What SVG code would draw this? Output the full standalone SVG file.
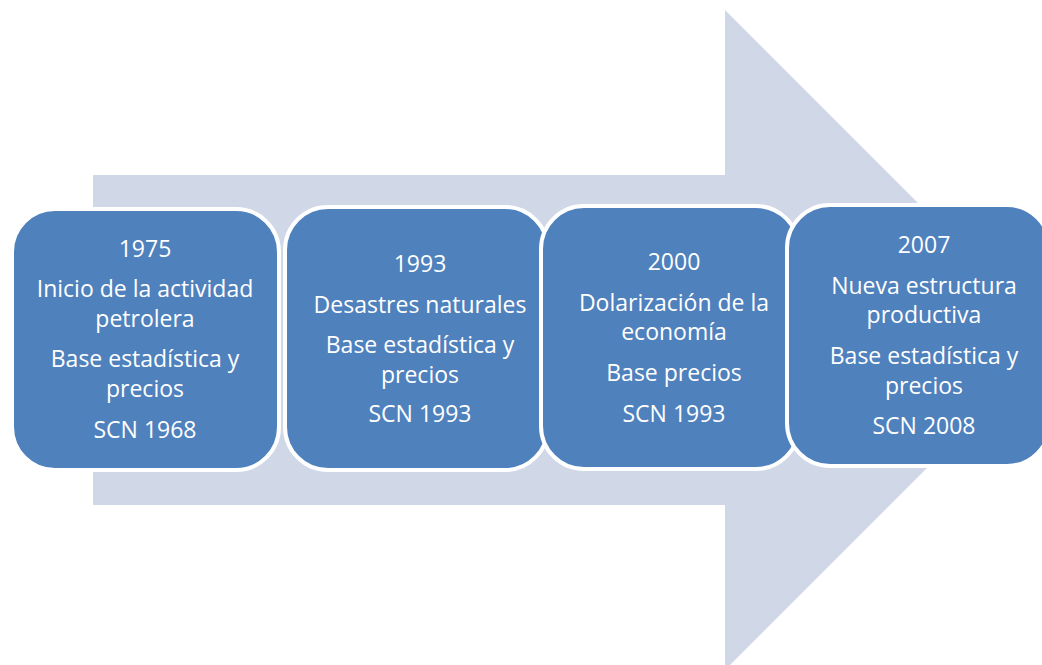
<svg xmlns="http://www.w3.org/2000/svg" width="1042" height="665" viewBox="0 0 1042 665">
<style>
.box{fill:#4F81BD;stroke:#FFFFFF;stroke-width:4}
.t{font-family:"Open Sans","Liberation Sans",sans-serif;font-size:23px;fill:#FFFFFF;text-anchor:middle}
</style>
<rect width="1042" height="665" fill="#FFFFFF"/>
<g id="connectors">
<polygon points="93,175 725,175 725,10 1055,340 725,670 725,505 93,505" fill="#D0D8E8"/>
</g>
<g id="n1">
<rect class="box" x="12" y="209" width="267" height="261" rx="43"/>
<text class="t" x="145" y="257">1975</text>
<text class="t" x="145" y="297">Inicio de la actividad</text>
<text class="t" x="145" y="327">petrolera</text>
<text class="t" x="145" y="367">Base estadística y</text>
<text class="t" x="145" y="397">precios</text>
<text class="t" x="145" y="438">SCN 1968</text>
</g>
<g id="n2">
<rect class="box" x="285" y="207" width="263" height="263" rx="43"/>
<text class="t" x="420" y="272">1993</text>
<text class="t" x="420" y="313">Desastres naturales</text>
<text class="t" x="420" y="353">Base estadística y</text>
<text class="t" x="420" y="383">precios</text>
<text class="t" x="420" y="422">SCN 1993</text>
</g>
<g id="n3">
<rect class="box" x="541" y="206" width="258" height="263" rx="43"/>
<text class="t" x="674" y="270">2000</text>
<text class="t" x="674" y="311">Dolarización de la</text>
<text class="t" x="674" y="340">economía</text>
<text class="t" x="674" y="381">Base precios</text>
<text class="t" x="674" y="422">SCN 1993</text>
</g>
<g id="n4">
<rect class="box" x="787" y="205" width="263" height="261" rx="43"/>
<text class="t" x="924" y="253">2007</text>
<text class="t" x="924" y="294">Nueva estructura</text>
<text class="t" x="924" y="323">productiva</text>
<text class="t" x="924" y="364">Base estadística y</text>
<text class="t" x="924" y="394">precios</text>
<text class="t" x="924" y="434">SCN 2008</text>
</g>
</svg>
